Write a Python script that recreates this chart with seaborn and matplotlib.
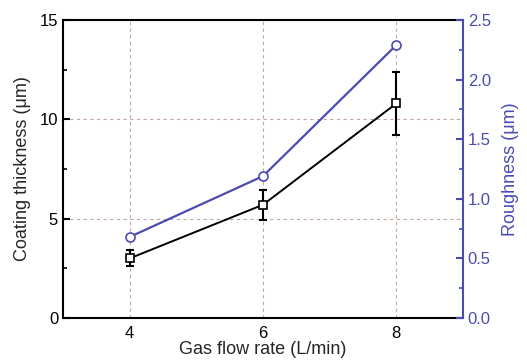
import matplotlib
matplotlib.use("Agg")
import matplotlib.pyplot as plt
import seaborn as sns
import pandas as pd
from matplotlib.ticker import MultipleLocator

sns.set_theme(style="white")
plt.rcParams['font.family'] = ['Liberation Sans', 'DejaVu Sans']

flow = [4, 6, 8]
thickness = [3.0, 5.7, 10.8]
thickness_err = [0.4, 0.75, 1.6]
roughness = [0.68, 1.19, 2.29]

blue = '#4b4bb0'
df = pd.DataFrame({'flow': flow, 'thickness': thickness, 'err': thickness_err, 'roughness': roughness})

fig = plt.figure(figsize=(5.27, 3.64), dpi=100)
ax = fig.add_axes([63/527, 1-318/364, 400/527, 298/364])
ax2 = ax.twinx()

ax.errorbar(df['flow'], df['thickness'], yerr=df['err'], fmt='none', ecolor='black',
            elinewidth=1.5, capsize=3, capthick=1.5, zorder=3)
sns.lineplot(data=df, x='flow', y='thickness', ax=ax, color='black', lw=1.4,
             marker='s', markersize=6, markerfacecolor='white', markeredgecolor='black',
             markeredgewidth=1.2, zorder=4)
sns.lineplot(data=df, x='flow', y='roughness', ax=ax2, color=blue, lw=1.6,
             marker='o', markersize=6.5, markerfacecolor='white', markeredgecolor=blue,
             markeredgewidth=1.2, zorder=4)

ax.set_xlim(3, 9)
ax.set_ylim(0, 15)
ax2.set_ylim(0, 2.5)
ax.set_xticks([4, 6, 8])
ax.xaxis.set_minor_locator(MultipleLocator(1))
ax.set_yticks([0, 5, 10, 15])
ax.yaxis.set_minor_locator(MultipleLocator(2.5))
ax2.set_yticks([0, 0.5, 1.0, 1.5, 2.0, 2.5])
ax2.set_yticklabels(['0.0', '0.5', '1.0', '1.5', '2.0', '2.5'])
ax2.yaxis.set_minor_locator(MultipleLocator(0.25))

ax.grid(True, which='major', color='#c0a8a0', linestyle=(0, (3, 3)), lw=0.8)
ax.set_axisbelow(True)

for s in ['left', 'bottom', 'top']:
    ax.spines[s].set_color('black')
    ax.spines[s].set_linewidth(1.5)
ax.spines['right'].set_visible(False)
for s in ['left', 'bottom', 'top']:
    ax2.spines[s].set_visible(False)
ax2.spines['right'].set_color(blue)
ax2.spines['right'].set_linewidth(1.5)

ax.tick_params(axis='both', which='major', direction='in', length=5, width=1.5,
               colors='black', labelsize=12, top=False, right=False)
ax.tick_params(axis='both', which='minor', direction='in', length=3, width=1.2,
               colors='black', top=False, right=False)
ax.tick_params(axis='x', pad=6)
ax2.tick_params(axis='y', which='major', direction='in', length=5, width=1.5,
                colors=blue, labelsize=12, labelcolor=blue)
ax2.tick_params(axis='y', which='minor', direction='in', length=3, width=1.2, colors=blue)

ax.set_xlabel('Gas flow rate (L/min)', fontsize=13, labelpad=0)
ax.set_ylabel('Coating thickness (\u03bcm)', fontsize=13, labelpad=6)
ax2.set_ylabel('Roughness (\u03bcm)', fontsize=13, color=blue, labelpad=8)

fig.savefig('out.png', dpi=100)
